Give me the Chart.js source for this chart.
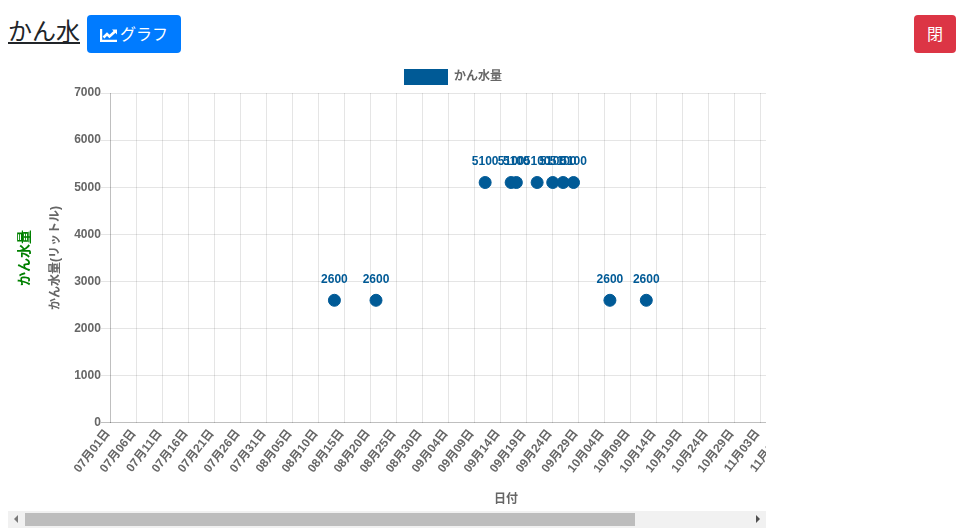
<!DOCTYPE html>
<html lang="ja">
<head>
<meta charset="utf-8">
<title>かん水</title>
<script src="https://cdn.jsdelivr.net/npm/chart.js@4/dist/chart.umd.min.js"></script>
<style>
  html, body { margin: 0; padding: 0; background: #fff; overflow: hidden; }
  body { width: 965px; height: 531px; position: relative; font-family: "Noto Sans CJK JP", "Noto Sans", sans-serif; }
  .head { position: absolute; left: 8px; top: 12px; font-size: 24px; line-height: 36px; color: #212529; text-decoration: underline; }
  .btn { position: absolute; top: 15px; height: 38px; line-height: 36px; border-radius: 4px; color: #fff; font-size: 16px; text-align: center; box-sizing: border-box; }
  .btn-graph { left: 87px; width: 94px; background: #007bff; }
  .btn-graph svg { vertical-align: -2px; margin-right: 3px; }
  .btn-close { left: 914px; width: 42px; background: #dc3545; }
  .chart-wrap { position: absolute; left: 8px; top: 63px; width: 758px; height: 449px; overflow: hidden; }
  .bar { position: absolute; left: 8px; top: 511px; width: 758px; height: 17px; background: #f1f1f1; }
  .thumb { position: absolute; left: 17px; top: 2px; width: 610px; height: 13px; background: #bdbdbd; }
  .arrow { position: absolute; top: 4px; width: 0; height: 0; border-top: 4px solid transparent; border-bottom: 4px solid transparent; }
  .arrow.l { left: 6px; border-right: 4px solid #7a7a7a; }
  .arrow.r { right: 6px; border-left: 4px solid #505050; }
</style>
</head>
<body>
<div class="head">かん水</div>
<div class="btn btn-graph"><svg width="17" height="13" viewBox="0 0 17 13"><path d="M0 0h2.200v10.800H17V13H0z" fill="#fff"/><path d="M3.500 8.500L7 5l2.500 2.500L15.500 2" fill="none" stroke="#fff" stroke-width="2.600"/><path d="M12 0.500h5v5z" fill="#fff"/></svg>グラフ</div>
<div class="btn btn-close">閉</div>
<div class="chart-wrap"><canvas id="chart" width="900" height="449"></canvas></div>
<div class="bar"><div class="arrow l"></div><div class="thumb"></div><div class="arrow r"></div></div>
<script>
const months = ['07', '08', '09', '10', '11'];
const monthDays = [31, 31, 30, 31, 30];
const dates = ['08月13日', '08月21日', '09月11日', '09月16日', '09月17日', '09月21日', '09月24日', '09月26日', '09月28日', '10月05日', '10月12日'];
const amounts = [2600, 2600, 5100, 5100, 5100, 5100, 5100, 5100, 5100, 2600, 2600];

// every day of the period is one category, only each 5th gets a label
const categories = [];
months.forEach((m, i) => {
  for (let d = 1; d <= monthDays[i]; d++) {
    categories.push(m + '月' + String(d).padStart(2, '0') + '日');
  }
});

const blue = '#005a96';
const font = { family: '"Liberation Sans", "Noto Sans CJK JP", sans-serif', size: 12, weight: 'bold' };

/* Write the value above each point */
const valueLabels = {
  id: 'valueLabels',
  beforeDraw(chart) {
    // the legend sits a bit left of the canvas centre and close to the plot
    chart.legend.right = chart.width - 10;
    chart.legend.top = 2;
  },
  afterDatasetsDraw(chart) {
    const ctx = chart.ctx;
    ctx.save();
    ctx.fillStyle = blue;
    ctx.font = 'bold 12px ' + font.family;
    ctx.textAlign = 'center';
    ctx.textBaseline = 'middle';
    chart.getDatasetMeta(0).data.forEach((pt, i) => {
      ctx.fillText(amounts[i], pt.x, pt.y - 21);
    });
    ctx.restore();
  }
};

new Chart(document.getElementById('chart').getContext('2d'), {
  type: 'line',
  plugins: [valueLabels],
  data: {
    labels: categories,
    datasets: [{
      label: 'かん水量',
      data: dates.map((d, i) => ({ x: d, y: amounts[i] })),
      showLine: false,
      backgroundColor: blue,
      borderColor: blue,
      pointRadius: 6,
      pointHoverRadius: 6
    }]
  },
  options: {
    responsive: false,
    animation: false,
    layout: { padding: { top: 0, bottom: 2 } },
    scales: {
      x: {
        title: { display: true, text: '日付', color: '#666', font: font, padding: { top: 13, bottom: 3 } },
        grid: {
          color: c => c.index === 0 ? 'rgba(0,0,0,0.25)' : 'rgba(0,0,0,0.1)',
          tickLength: 0
        },
        border: { display: false },
        ticks: {
          autoSkip: false,
          maxRotation: 52,
          minRotation: 52,
          labelOffset: -3,
          color: '#666',
          font: font,
          padding: 4,
          callback(v, i) { return i % 5 === 0 ? this.getLabelForValue(v) : null; }
        }
      },
      y: {
        min: 0,
        max: 7000,
        weight: 0,
        title: { display: true, text: 'かん水量(リットル)', color: '#666', font: font, padding: { top: 4, bottom: 11 } },
        grid: {
          color: c => c.tick.value === 0 ? 'rgba(0,0,0,0.25)' : 'rgba(0,0,0,0.1)',
          tickLength: 10
        },
        border: { display: false },
        ticks: { stepSize: 1000, color: '#666', font: font, padding: 0, callback: v => String(v) }
      },
      // second axis, only there for the green title
      yName: {
        position: 'left',
        weight: 1,
        title: { display: true, text: 'かん水量', color: 'green', font: { family: font.family, size: 14, weight: 'bold' }, padding: { top: 9, bottom: 3 } },
        grid: { display: false },
        border: { display: false },
        ticks: { display: false }
      }
    },
    plugins: {
      tooltip: { enabled: false },
      legend: {
        position: 'top',
        labels: {
          boxWidth: 44,
          boxHeight: 16,
          padding: 4,
          color: '#666',
          font: font,
          generateLabels: c => [{ text: c.data.datasets[0].label, fillStyle: blue, strokeStyle: blue, lineWidth: 0, fontColor: '#666' }]
        }
      }
    }
  }
});
</script>
</body>
</html>
